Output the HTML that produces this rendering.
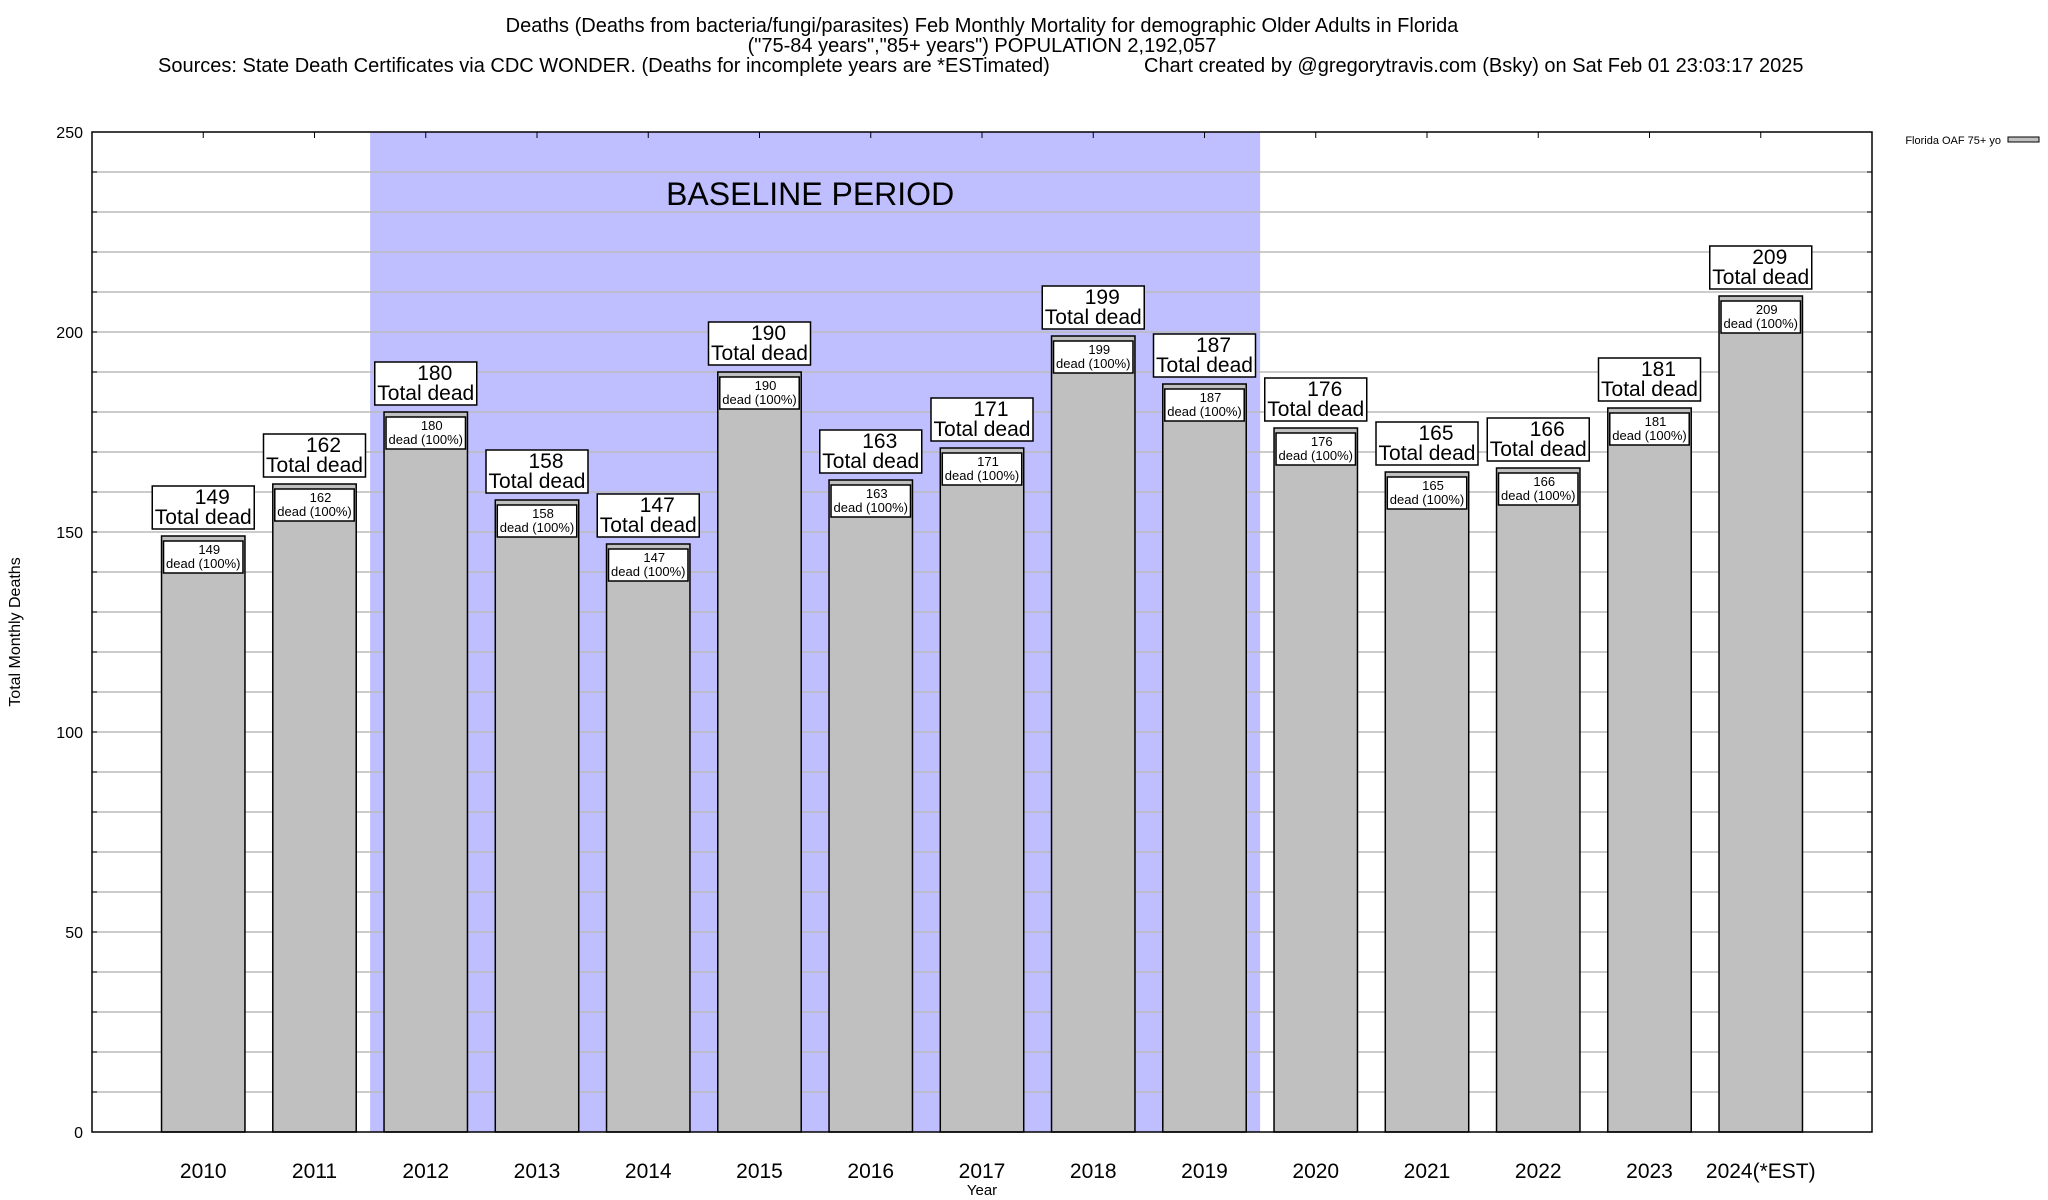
<!DOCTYPE html>
<html><head><meta charset="utf-8"><style>
html,body{margin:0;padding:0;background:#fff}
svg{display:block;font-family:"Liberation Sans",sans-serif}
</style></head><body>
<svg id="chart" width="2048" height="1200" viewBox="0 0 2048 1200">
<g font-size="20" text-anchor="middle" fill="#000">
<text x="982" y="32">Deaths (Deaths from bacteria/fungi/parasites) Feb Monthly Mortality for demographic Older Adults in Florida</text>
<text x="982" y="52">("75-84 years","85+ years") POPULATION 2,192,057</text>
<text x="158" y="72" text-anchor="start">Sources: State Death Certificates via CDC WONDER. (Deaths for incomplete years are *ESTimated)</text>
<text x="1144" y="72" text-anchor="start">Chart created by @gregorytravis.com (Bsky) on Sat Feb 01 23:03:17 2025</text>
</g>
<g id="plot"></g>
<g>
<text x="2001" y="144" font-size="11" text-anchor="end">Florida OAF 75+ yo</text>
<rect x="2008" y="137" width="31" height="5" fill="#c0c0c0" stroke="#000" stroke-width="1"/>
</g>
<text transform="translate(20,632) rotate(-90)" font-size="16" text-anchor="middle">Total Monthly Deaths</text>
<text x="982" y="1195" font-size="15" text-anchor="middle">Year</text>
</svg>
<script>
const categories = ["2010","2011","2012","2013","2014","2015","2016","2017","2018","2019","2020","2021","2022","2023","2024(*EST)"];
const deaths = [149,162,180,158,147,190,163,171,199,187,176,165,166,181,209];
const yTicks = [0,50,100,150,200,250];
const baselineStart = 2.5, baselineEnd = 10.5;

const L=92,R=1872,T=132,B=1132;
const xs = v => L + v*(R-L)/16;
const ys = v => B - v*(B-T)/250;
const NS="http://www.w3.org/2000/svg";
const plot=document.getElementById('plot');
function mk(tag,attrs,parent){const e=document.createElementNS(NS,tag);for(const k in attrs)e.setAttribute(k,attrs[k]);(parent||plot).appendChild(e);return e;}

const shade=mk('rect',{x:xs(baselineStart),y:T,width:xs(baselineEnd)-xs(baselineStart),height:B-T,fill:'#bfbfff'});


const bl=mk('text',{x:(xs(baselineStart)+xs(baselineEnd))/2-5,y:205,'font-size':32,'text-anchor':'middle'});
bl.textContent='BASELINE PERIOD';



for(let v=10;v<250;v+=10){
  const g=mk('line',{x1:L,x2:R,y1:ys(v),y2:ys(v),stroke:'#bbb','stroke-width':1.5});
  
  
  mk('line',{x1:L,x2:L+5,y1:ys(v),y2:ys(v),stroke:'#000'});
  mk('line',{x1:R-5,x2:R,y1:ys(v),y2:ys(v),stroke:'#000'});
}
yTicks.forEach(v=>{
  const t=mk('text',{x:83,y:ys(v)+6,'font-size':16,'text-anchor':'end'});
  t.textContent=v;
  
  
});

categories.forEach((c,i)=>{
  const cx=xs(i+1), w=0.75*(R-L)/16, v=deaths[i], top=ys(v);
  mk('line',{x1:cx,x2:cx,y1:T,y2:T+6,stroke:'#000'});
  const bar=mk('rect',{x:cx-w/2,y:top,width:w,height:B-top,fill:'#c0c0c0',stroke:'#000','stroke-width':1.5});
  
  
  const ib=mk('rect',{x:cx-w/2+2,y:top+5,width:w-4,height:32,fill:'#fff',stroke:'#000','stroke-width':1.5});
  
  
  const t1=mk('text',{x:cx+6,y:top+18,'font-size':13,'text-anchor':'middle'});t1.textContent=v;
  
  
  const t2=mk('text',{x:cx,y:top+32,'font-size':13,'text-anchor':'middle'});t2.textContent='dead (100%)';
  
  
  const ob=mk('rect',{x:cx-51,y:top-50,width:102,height:43,fill:'#fff',stroke:'#000','stroke-width':1.5});
  
  
  const o1=mk('text',{x:cx+9,y:top-32,'font-size':21,'text-anchor':'middle'});o1.textContent=v;
  
  
  const o2=mk('text',{x:cx,y:top-12,'font-size':21,'text-anchor':'middle'});o2.textContent='Total dead';
  
  
  const xl=mk('text',{x:cx,y:1178,'font-size':21,'text-anchor':'middle'});xl.textContent=c;
  
  
});
const frame=mk('rect',{x:L,y:T,width:R-L,height:B-T,fill:'none',stroke:'#000','stroke-width':1.5});


</script>
</body></html>
